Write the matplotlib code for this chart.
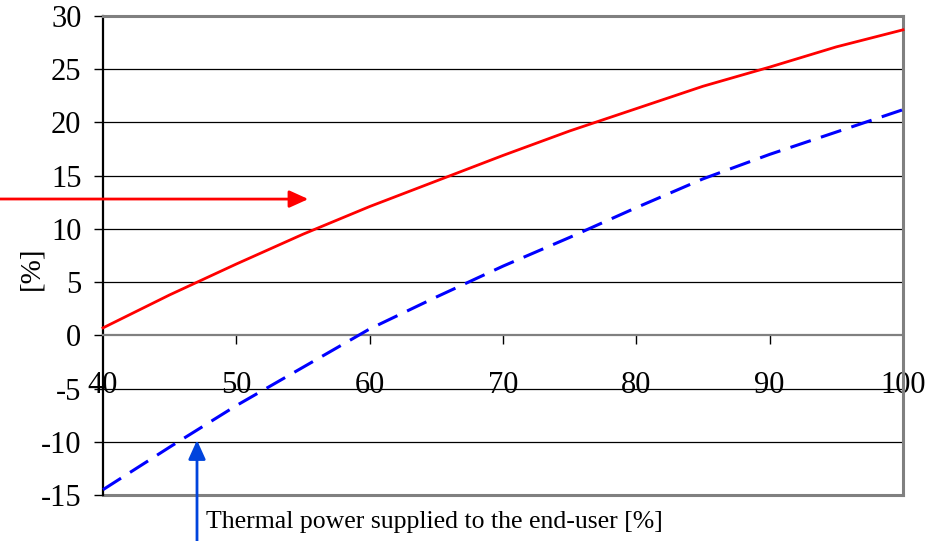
import matplotlib
matplotlib.use("Agg")
import matplotlib.pyplot as plt

# Data
x_vals = [40, 45, 50, 55, 60, 65, 70, 75, 80, 85, 90, 95, 100]
red_vals = [0.7, 3.8, 6.7, 9.5, 12.1, 14.5, 16.9, 19.2, 21.3, 23.4, 25.2, 27.1, 28.7]
blue_vals = [-14.5, -10.5, -6.6, -3.0, 0.6, 3.6, 6.5, 9.2, 12.0, 14.7, 17.0, 19.1, 21.2]
x_ticks = [40, 50, 60, 70, 80, 90, 100]
y_ticks = [-15, -10, -5, 0, 5, 10, 15, 20, 25, 30]
xlabel = "Thermal power supplied to the end-user [%]"
ylabel = "[%]"

plt.rcParams['font.family'] = ['Liberation Serif', 'DejaVu Serif']
plt.rcParams['axes.unicode_minus'] = False

fig = plt.figure(figsize=(9.28, 5.41), dpi=100)
ax = fig.add_axes([103/928, 1-495/541, 800/928, 479/541])

ax.set_xlim(40, 100)
ax.set_ylim(-15, 30)

# gridlines
for yv in y_ticks:
    if yv in (-15, 0, 30):
        continue
    ax.axhline(yv, color='black', lw=0.9, zorder=1)

ax.plot(x_vals, red_vals, color='#ff0000', lw=2.0, zorder=3, clip_on=False)
ax.plot(x_vals, blue_vals, color='#0000ff', lw=2.2, dashes=(7, 3.5), zorder=3, clip_on=False)

gray = '#808080'
ax.spines['bottom'].set_position(('data', 0))
ax.spines['bottom'].set_color(gray)
ax.spines['bottom'].set_linewidth(1.6)
ax.spines['top'].set_color(gray)
ax.spines['top'].set_linewidth(2.2)
ax.spines['right'].set_color(gray)
ax.spines['right'].set_linewidth(2.2)
ax.spines['left'].set_color('black')
ax.spines['left'].set_linewidth(1.6)
ax.axhline(-15, color=gray, lw=2.2, zorder=2, clip_on=False)

ax.set_xticks(x_ticks)
ax.set_xticklabels([str(v) for v in x_ticks])
ax.set_yticks(y_ticks)
ax.set_yticklabels([str(v) for v in y_ticks])
ax.tick_params(axis='x', direction='out', length=6.5, width=1, color='black',
               labelsize=22, pad=19)
ax.tick_params(axis='y', direction='out', length=6.5, width=1, color='black',
               labelsize=22, pad=9)
ax.xaxis.get_major_ticks()[0].tick1line.set_visible(False)

fig.text(434/928, 1-522/541, xlabel, fontsize=18.5, ha='center', va='center')
fig.text(31/928, 1-268/541, ylabel, fontsize=21, ha='center', va='center', rotation=90)

# arrows
ax.annotate('', xy=(55.4, 12.8), xycoords='data',
            xytext=(0, 1-199/541), textcoords='figure fraction',
            arrowprops=dict(arrowstyle='-|>,head_length=1.15,head_width=0.52',
                            color='#ff0000', lw=2.0, shrinkA=0, shrinkB=0),
            annotation_clip=False)
ax.annotate('', xy=(47.05, -9.85), xycoords='data',
            xytext=(197/928, 0), textcoords='figure fraction',
            arrowprops=dict(arrowstyle='-|>,head_length=1.15,head_width=0.52',
                            color='#0044dd', lw=2.0, shrinkA=0, shrinkB=0),
            annotation_clip=False)

fig.savefig('out.png', dpi=100)
